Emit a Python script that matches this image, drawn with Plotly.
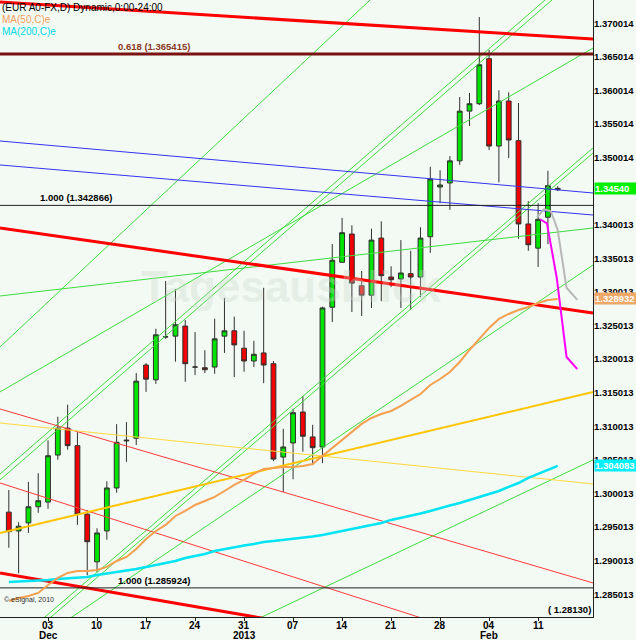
import pandas as pd
import plotly.graph_objects as go

# trading days on the chart (eSignal FX keeps every weekday)
dates = pd.bdate_range("2012-11-27", "2013-02-13")

opens = [1.2972, 1.2944, 1.2956, 1.2980, 1.2987, 1.3057, 1.3097, 1.3071, 1.2969, 1.2898,
         1.2944, 1.3008, 1.3078, 1.3082, 1.3191, 1.3169, 1.3233, 1.3234, 1.3249, 1.3188,
         1.3187, 1.3188, 1.3234, 1.3242, 1.3216, 1.3197, 1.3209, 1.3193, 1.3054, 1.3075,
         1.3121, 1.3084, 1.3069, 1.3277, 1.3344, 1.3386, 1.3309, 1.3295, 1.3380, 1.3322,
         1.3319, 1.3327, 1.3322, 1.3382, 1.3456, 1.3462, 1.3495, 1.3569, 1.3580, 1.3647,
         1.3517, 1.3584, 1.3525, 1.3401, 1.3365, 1.3411, 1.3452]
highs = [1.3005, 1.2957, 1.3017, 1.3030, 1.3079, 1.3114, 1.3132, 1.3091, 1.2975, 1.2948,
         1.3018, 1.3103, 1.3106, 1.3179, 1.3194, 1.3245, 1.3316, 1.3304, 1.3258, 1.3240,
         1.3213, 1.3260, 1.3291, 1.3263, 1.3242, 1.3227, 1.3306, 1.3197, 1.3096, 1.3126,
         1.3145, 1.3102, 1.3278, 1.3371, 1.3410, 1.3399, 1.3331, 1.3394, 1.3405, 1.3338,
         1.3377, 1.3361, 1.3396, 1.3486, 1.3481, 1.3502, 1.3590, 1.3596, 1.3709, 1.3660,
         1.3600, 1.3597, 1.3581, 1.3435, 1.3432, 1.3480, 1.3457]
lows = [1.2919, 1.2881, 1.2941, 1.2971, 1.2977, 1.3050, 1.3065, 1.2953, 1.2878, 1.2883,
        1.2931, 1.3001, 1.3047, 1.3072, 1.3151, 1.3163, 1.3230, 1.3196, 1.3166, 1.3176,
        1.3179, 1.3178, 1.3209, 1.3173, 1.3181, 1.3188, 1.3164, 1.3048, 1.3002, 1.3021,
        1.3062, 1.3042, 1.3045, 1.3255, 1.3343, 1.3270, 1.3264, 1.3276, 1.3286, 1.3307,
        1.3276, 1.3273, 1.3292, 1.3358, 1.3432, 1.3422, 1.3489, 1.3547, 1.3578, 1.3511,
        1.3463, 1.3499, 1.3379, 1.3361, 1.3337, 1.3371, 1.3450]
closes = [1.2943, 1.2951, 1.2980, 1.2989, 1.3056, 1.3097, 1.3071, 1.2969, 1.2928, 1.2941,
          1.3008, 1.3076, 1.3079, 1.3167, 1.3170, 1.3236, 1.3233, 1.3251, 1.3193, 1.3188,
          1.3184, 1.3230, 1.3242, 1.3221, 1.3197, 1.3207, 1.3191, 1.3051, 1.3069, 1.3120,
          1.3085, 1.3068, 1.3276, 1.3347, 1.3388, 1.3313, 1.3295, 1.3377, 1.3324, 1.3318,
          1.3328, 1.3322, 1.3380, 1.3468, 1.3459, 1.3495, 1.3569, 1.3580, 1.3638, 1.3517,
          1.3584, 1.3526, 1.3401, 1.3370, 1.3408, 1.3458, 1.3454]

ma50 = [1.28398, 1.28443, 1.28472, 1.28517, 1.28636, 1.28740, 1.28815, 1.28844, 1.28844, 1.28859,
        1.28904, 1.28993, 1.29053, 1.29172, 1.29321, 1.29440, 1.29529, 1.29663, 1.29738, 1.29827,
        1.29886, 1.29946, 1.30035, 1.30125, 1.30199, 1.30288, 1.30363, 1.30378, 1.30393, 1.30393,
        1.30407, 1.30437, 1.30556, 1.30675, 1.30794, 1.30914, 1.31033, 1.31122, 1.31181, 1.31226,
        1.31301, 1.31390, 1.31479, 1.31613, 1.31702, 1.31807, 1.31955, 1.32134, 1.32298, 1.32462,
        1.32596, 1.32670, 1.32729, 1.32774, 1.32834, 1.32878, 1.32893]
ma200 = [1.28681, 1.28688, 1.28696, 1.28696, 1.28711, 1.28725, 1.28733, 1.28740, 1.28755, 1.28785,
         1.28807, 1.28822, 1.28844, 1.28874, 1.28904, 1.28934, 1.28964, 1.28993, 1.29038, 1.29068,
         1.29098, 1.29142, 1.29172, 1.29202, 1.29224, 1.29246, 1.29276, 1.29291, 1.29306, 1.29321,
         1.29336, 1.29358, 1.29380, 1.29410, 1.29440, 1.29470, 1.29499, 1.29529, 1.29559, 1.29604,
         1.29633, 1.29663, 1.29700, 1.29738, 1.29782, 1.29819, 1.29857, 1.29901, 1.29946, 1.29991,
         1.30035, 1.30095, 1.30154, 1.30229, 1.30288, 1.30348, 1.30408]

# projections drawn past the last bar (x in bar positions)
gray_x = [53.9, 54.6, 55.3, 56.0, 56.9, 58.0]
gray_y = [1.3411, 1.3423, 1.3420, 1.3392, 1.3306, 1.3288]
pink_x = [54.2, 54.9, 55.9, 56.9, 58.0]
pink_y = [1.3408, 1.3402, 1.3321, 1.3203, 1.3185]

# trendlines: (x0, price0, x1, price1)
red_thick = [(-0.9, 1.37314, 59.6, 1.36763), (-0.9, 1.33950, 59.6, 1.32685),
             (-0.9, 1.28815, 59.6, 1.27292)]
red_thin = [(-0.9, 1.31256, 59.6, 1.28666), (-0.9, 1.30154, 59.6, 1.27326)]
green_lines = [(-0.9, 1.32179, 59.6, 1.40455), (-0.9, 1.31509, 59.6, 1.36629),
               (-0.9, 1.30288, 59.6, 1.37965), (-0.9, 1.30199, 59.6, 1.37875),
               (-0.9, 1.27587, 59.6, 1.35141), (-0.9, 1.27509, 59.6, 1.35066),
               (-0.9, 1.32938, 59.6, 1.33950), (-0.9, 1.27436, 59.6, 1.33399),
               (-0.9, 1.26310, 59.6, 1.30497)]
blue_lines = [(-0.9, 1.35245, 59.6, 1.34471), (-0.9, 1.34888, 59.6, 1.34143)]
gold_thick = [(-0.9, 1.29410, 59.6, 1.31509)]
gold_thin = [(-0.9, 1.31047, 59.6, 1.30140)]

fib_618 = 1.365415
fib_top = 1.342866
fib_low = 1.285924
last_price = 1.34540
ma50_last = 1.328932
ma200_last = 1.304083

# 1.345014 sits under the last-price box, so it is not listed
ytick_vals = [1.370014, 1.365014, 1.360014, 1.355014, 1.350014, 1.340013, 1.335013,
              1.330013, 1.325013, 1.320013, 1.315013, 1.310013, 1.305013, 1.300013, 1.295013,
              1.290013, 1.285013]
month_labels = {"2012-12-03": "Dec", "2012-12-31": "2013", "2013-02-04": "Feb"}

xs = list(range(len(dates)))
mondays = [k for k, d in enumerate(dates) if d.weekday() == 0 and d >= pd.Timestamp("2012-12-03")]

fig = go.Figure()


def add_lines(lines, color, width):
    for x0, y0, x1, y1 in lines:
        fig.add_trace(go.Scatter(x=[x0, x1], y=[y0, y1], mode="lines",
                                 line=dict(color=color, width=width), hoverinfo="skip"))


add_lines(green_lines, "#3EDC3E", 1)
add_lines(red_thin, "#FF3A3A", 1)
add_lines(blue_lines, "#3434F0", 1)
add_lines(gold_thin, "#FFD840", 1)
add_lines(gold_thick, "#FFC400", 2)
add_lines(red_thick, "#FF0000", 3)

for level, color, width in [(fib_top, "#202020", 1), (fib_low, "#202020", 1), (fib_618, "#7A1212", 3)]:
    fig.add_trace(go.Scatter(x=[-0.9, 59.6], y=[level, level], mode="lines",
                             line=dict(color=color, width=width), hoverinfo="skip"))

fig.add_trace(go.Scatter(x=xs, y=ma200, mode="lines", line=dict(color="#00E4F4", width=2.5)))
fig.add_trace(go.Scatter(x=xs, y=ma50, mode="lines", line=dict(color="#F4A050", width=2)))
fig.add_trace(go.Scatter(x=gray_x, y=gray_y, mode="lines", line=dict(color="#B8B8B8", width=2)))
fig.add_trace(go.Scatter(x=pink_x, y=pink_y, mode="lines", line=dict(color="#FF00FF", width=2)))

fig.add_trace(go.Candlestick(
    x=xs, open=opens, high=highs, low=lows, close=closes,
    increasing=dict(fillcolor="#00E400", line=dict(color="#303030", width=1)),
    decreasing=dict(fillcolor="#F00000", line=dict(color="#303030", width=1)),
    whiskerwidth=0,
))

font = "Liberation Sans"
ann = []
ann.append(dict(text="Tagesausblick", xref="paper", yref="paper", x=291 / 593, y=1 - 287 / 617,
                xanchor="center", showarrow=False,
                font=dict(family=font, size=44, color="rgba(205,218,205,0.35)", weight="bold")))
ann.append(dict(text="(EUR A0-FX,D) Dynamic,0:00-24:00", xref="paper", yref="paper", x=0, y=1,
                xanchor="left", yanchor="top", showarrow=False, font=dict(family=font, size=10, color="#000000")))
ann.append(dict(text="MA(50,C)e", xref="paper", yref="paper", x=0, y=1, yshift=-12,
                xanchor="left", yanchor="top", showarrow=False, font=dict(family=font, size=10, color="#F4A060")))
ann.append(dict(text="MA(200,C)e", xref="paper", yref="paper", x=0, y=1, yshift=-24,
                xanchor="left", yanchor="top", showarrow=False, font=dict(family=font, size=10, color="#00D8E8")))
ann.append(dict(text="0.618 (%.6f)" % fib_618, xref="paper", yref="y", x=154 / 593, y=fib_618,
                xanchor="center", yanchor="bottom", showarrow=False,
                font=dict(family=font, size=9.5, color="#8B3A1E", weight="bold")))
ann.append(dict(text="1.000 (%.6f)" % fib_top, xref="paper", yref="y", x=76 / 593, y=fib_top,
                xanchor="center", yanchor="bottom", showarrow=False,
                font=dict(family=font, size=9.5, color="#000000", weight="bold")))
ann.append(dict(text="1.000 (%.6f)" % fib_low, xref="paper", yref="y", x=154 / 593, y=fib_low,
                xanchor="center", yanchor="bottom", showarrow=False,
                font=dict(family=font, size=9.5, color="#000000", weight="bold")))
ann.append(dict(text="( 1.28130)", xref="paper", yref="paper", x=1, y=0, xanchor="right", yanchor="bottom",
                showarrow=False, font=dict(family=font, size=9.5, color="#000000", weight="bold")))
ann.append(dict(text="© eSignal, 2010", xref="paper", yref="paper", x=0.003, y=1 - 606 / 617,
                xanchor="left", showarrow=False, font=dict(family=font, size=7, color="#303030")))
# right-hand price scale
for v in ytick_vals:
    ann.append(dict(text="%.6f" % v, xref="paper", yref="y", x=1, y=v, xanchor="left", xshift=0,
                    showarrow=False, borderpad=0,
                    font=dict(family=font, size=9.5, color="#000000", weight="bold")))
for price, color, label in [(last_price, "#00F000", "1.34540"), (ma50_last, "#F0A868", "%.6f" % ma50_last),
                            (ma200_last, "#00F0FF", "%.6f" % ma200_last)]:
    ann.append(dict(text=label, xref="paper", yref="y", x=1, y=price, xanchor="left", xshift=1,
                    width=42, align="left", showarrow=False, bgcolor=color, borderpad=0,
                    font=dict(family=font, size=9.5, color="#FFFFFF", weight="bold")))
# date scale: day numbers, then month / year underneath
for k in mondays:
    ann.append(dict(text=dates[k].strftime("%d"), xref="x", yref="paper", x=k, y=0, yshift=-8,
                    yanchor="middle", showarrow=False,
                    font=dict(family=font, size=10, color="#000000", weight="bold")))
    key = dates[k].strftime("%Y-%m-%d")
    if key in month_labels:
        ann.append(dict(text=month_labels[key], xref="x", yref="paper", x=k, y=0, yshift=-18,
                        yanchor="middle", showarrow=False,
                        font=dict(family=font, size=10, color="#000000", weight="bold")))

fig.update_layout(
    width=636, height=640,
    margin=dict(l=0, r=43, t=0, b=23),
    plot_bgcolor="#F3F9F3", paper_bgcolor="#F3F9F3",
    showlegend=False,
    annotations=ann,
)
fig.update_xaxes(
    range=[-0.9, 59.6], rangeslider_visible=False, showgrid=False, zeroline=False,
    showline=True, linecolor="#202020", linewidth=1, ticks="outside", ticklen=3, tickcolor="#202020",
    tickvals=mondays, showticklabels=False, automargin=False,
)
fig.update_yaxes(
    range=[1.28159, 1.37344], side="right", showgrid=False, zeroline=False,
    showline=True, linecolor="#202020", linewidth=1, ticks="", showticklabels=False,
    automargin=False,
)

fig.write_html("out.html", config={"displayModeBar": False},
               post_script="document.body.style.margin='0px';")
